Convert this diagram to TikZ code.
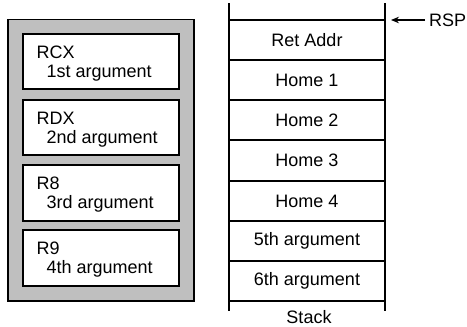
\documentclass[tikz,border=0pt]{standalone}
\usepackage{fontspec}
\setmainfont{Liberation Sans}
\usetikzlibrary{arrows.meta}
\begin{document}
\begin{tikzpicture}[x=1pt,y=-1pt,
  font=\fontsize{18}{21}\selectfont,
  regbank/.style={draw=black,line width=1.6pt,fill=black!25},
  regbox/.style={draw=black,line width=1.4pt,fill=white},
  regtxt/.style={anchor=base west,inner sep=0pt},
  cell/.style={anchor=center,inner sep=0pt},
  stackline/.style={line width=1.3pt}]
\useasboundingbox (0,0) rectangle (467,327);
% register file
\draw[regbank] (8,19.5) rectangle (194,301);
\foreach \t/\b/\r/\a/\n in {34/89/RCX/1st/r1, 100/155/RDX/2nd/r2, 165/221/R8/3rd/r3, 230/286/R9/4th/r4}{
  \draw[regbox] (23,\t) rectangle (179,\b);
  \node[regtxt] (\n name) at (36.5,\t+24) {\r};
  \node[regtxt] (\n arg) at (46.5,\t+43) {\a\ argument};
}
% stack frame
\draw[stackline] (229,3) -- (229,311);
\draw[stackline] (385,3) -- (385,311);
\foreach \y in {20,60,100,140,181,221,261,301}{
  \draw[stackline] (229,\y) -- (385,\y);
}
\node[cell] (ret) at (307,40) {Ret Addr};
\node[cell] (h1) at (307,80) {Home 1};
\node[cell] (h2) at (307,120) {Home 2};
\node[cell] (h3) at (307,160.5) {Home 3};
\node[cell] (h4) at (307,201) {Home 4};
\node[cell] (a5) at (307,241) {5th argument};
\node[cell] (a6) at (307,281) {6th argument};
\node[cell] (stk) at (309,317) {Stack};
% stack pointer
\node[anchor=west,inner sep=0pt] (rsp) at (429,20) {RSP};
\coordinate (top) at (391,20);
\draw[line width=1.3pt,-{Stealth[length=8pt,width=6.5pt]}] (rsp.west) ++(-4,0) -- (top);
\end{tikzpicture}
\end{document}
